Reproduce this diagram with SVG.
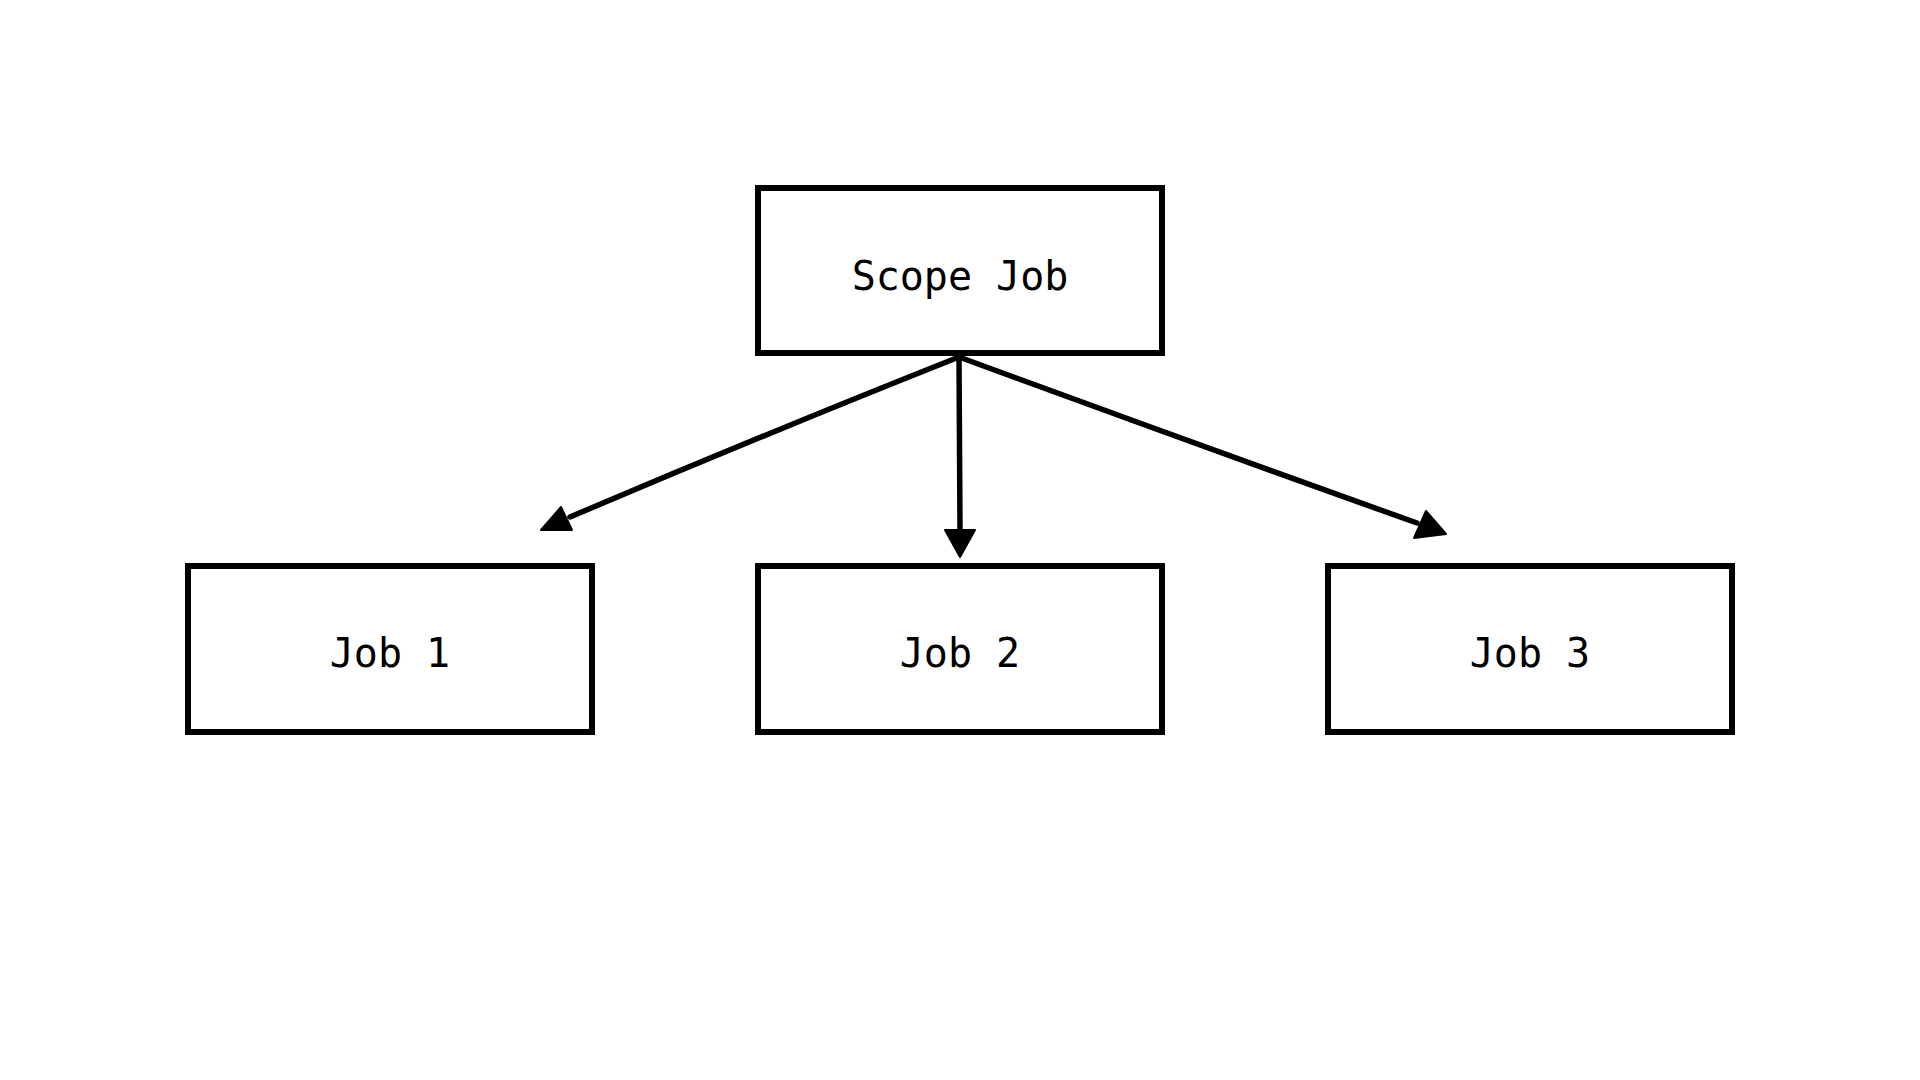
<svg xmlns="http://www.w3.org/2000/svg" width="1920" height="1080" viewBox="0 0 1920 1080">
<style>
.box{fill:#fff;stroke:#000;stroke-width:6;stroke-linejoin:miter}
.edge{fill:none;stroke:#000;stroke-width:5.5;stroke-linecap:round}
.head{fill:#000;stroke:#000;stroke-width:2;stroke-linejoin:round}
.lbl{font-family:"DejaVu Sans Mono","Liberation Mono",monospace;font-size:40px;fill:#000;text-anchor:middle}
</style>
<rect width="1920" height="1080" fill="#fff"/>
<g id="scope-job">
<rect class="box" x="758" y="188" width="404" height="165"/>
<text class="lbl" x="960" y="290">Scope Job</text>
</g>
<g id="job-1">
<rect class="box" x="188" y="566" width="404" height="166"/>
<text class="lbl" x="390" y="667">Job 1</text>
</g>
<g id="job-2">
<rect class="box" x="758" y="566" width="404" height="166"/>
<text class="lbl" x="960" y="667">Job 2</text>
</g>
<g id="job-3">
<rect class="box" x="1328" y="566" width="404" height="166"/>
<text class="lbl" x="1530" y="667">Job 3</text>
</g>
<g id="connectors">
<path class="edge" d="M959,357 Q770,432 570,517"/>
<polygon class="head" points="561,507 541,530 572,530"/>
<path class="edge" d="M959,357 L960,530" stroke-width="4.5"/>
<polygon class="head" points="945,530 975,530 960,557"/>
<path class="edge" d="M959,357 Q1190,442 1417,523"/>
<polygon class="head" points="1426,511 1414,538 1446,534"/>
</g>
</svg>
